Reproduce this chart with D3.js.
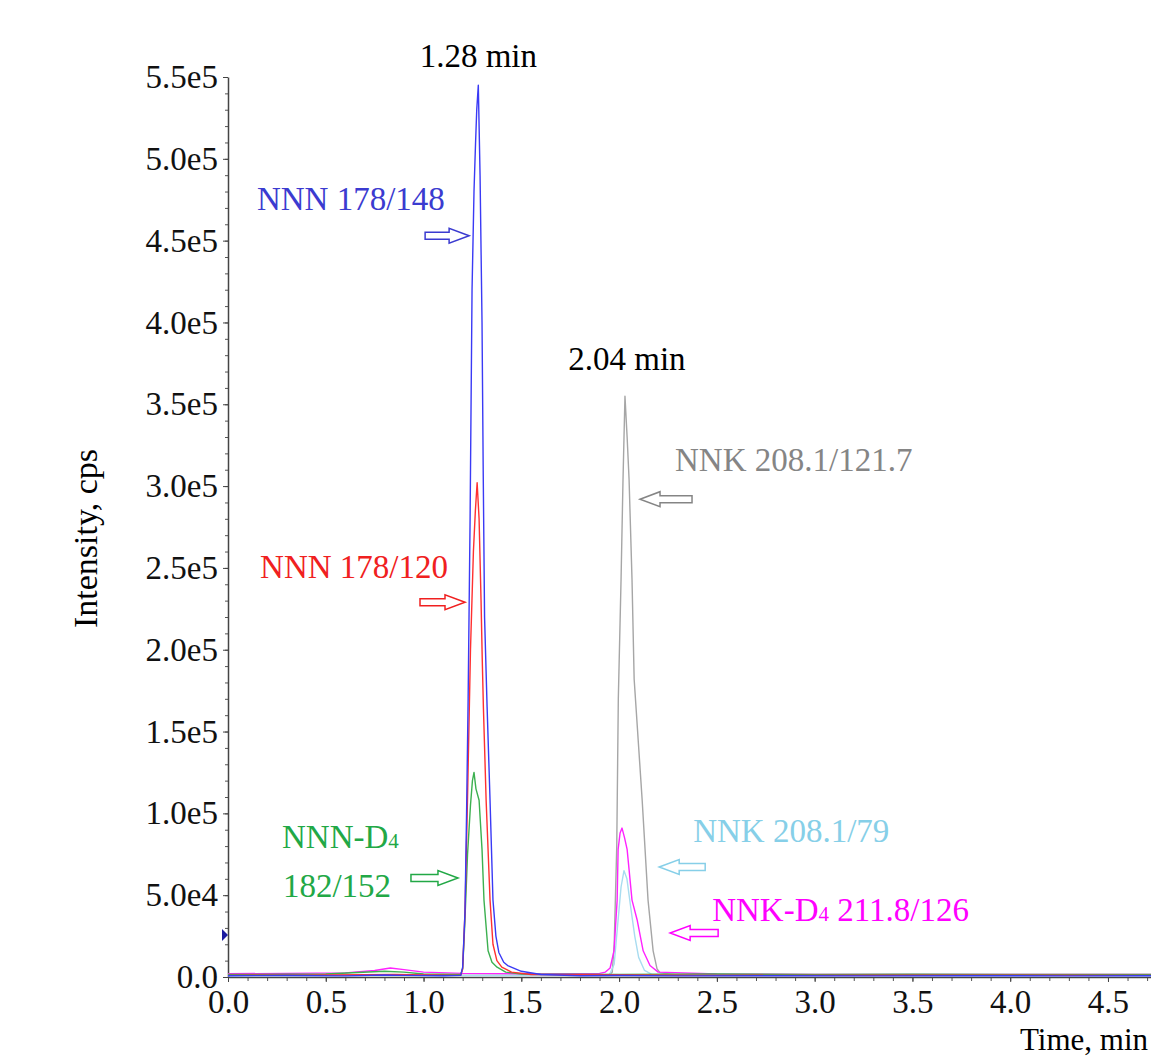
<!DOCTYPE html>
<html>
<head>
<meta charset="utf-8">
<script src="https://cdn.jsdelivr.net/npm/d3@7"></script>
<style>
  body { margin: 0; background: #fff; }
  svg { display: block; font-family: "Liberation Serif", "Times New Roman", serif; }
</style>
</head>
<body>
<script>
// chromatogram traces, [time (min), intensity (cps)]
const nnn148 = [[0,800],[0.3,900],[0.6,700],[0.8,1200],[0.9,1000],[1.1,800],[1.19,1000],[1.2,6000],[1.205,20000],[1.212,40000],
  [1.22,100000],[1.228,170000],[1.238,280000],[1.248,420000],[1.258,480000],[1.266,510000],[1.272,530000],[1.28,545000],
  [1.289,490000],[1.299,400000],[1.305,310000],[1.312,220000],[1.325,165000],[1.34,108000],[1.355,47000],[1.37,25000],
  [1.385,15000],[1.41,9000],[1.43,7000],[1.5,3500],[1.6,1500],[1.8,800],[2.0,900],[2.3,700],[2.8,800],[3.3,700],[3.8,800],[4.3,700],[4.75,800]];
const nnn120 = [[0,1000],[0.4,1100],[0.85,1500],[1.19,1000],[1.2,5000],[1.212,40000],[1.225,110000],[1.24,200000],[1.255,260000],
  [1.265,285000],[1.274,302000],[1.284,280000],[1.294,230000],[1.3,195000],[1.306,165000],[1.32,108000],[1.34,47000],[1.355,20000],
  [1.375,10000],[1.4,6000],[1.45,3000],[1.55,1500],[2.0,1200],[2.5,1000],[3.5,1100],[4.75,1000]];
const nnnD4 = [[0,1500],[0.5,1800],[0.8,3500],[0.9,3000],[1.0,1800],[1.19,1500],[1.2,5000],[1.21,30000],[1.225,75000],[1.24,105000],
  [1.25,120000],[1.258,125000],[1.268,115000],[1.284,108000],[1.299,78000],[1.309,47000],[1.33,16000],[1.35,9000],[1.376,6000],
  [1.42,3000],[1.5,1800],[2.0,1600],[2.5,1800],[3.0,1500],[3.5,1700],[4.0,1600],[4.75,1500]];
const nnk121 = [[0,1000],[0.5,1200],[1.0,1000],[1.5,1100],[1.95,1500],[1.965,3000],[1.975,20000],[1.988,80000],[1.996,170000],
  [2.01,243000],[2.02,304000],[2.03,355000],[2.041,330000],[2.051,304000],[2.066,243000],[2.077,182000],[2.118,108000],
  [2.148,47000],[2.174,16000],[2.194,5000],[2.21,2500],[2.3,1200],[3.0,1000],[4.0,1100],[4.75,1000]];
const nnk79 = [[0,800],[1.0,900],[1.95,1000],[1.975,8000],[1.995,35000],[2.01,55000],[2.025,65000],[2.04,60000],[2.06,42000],
  [2.08,25000],[2.1,12000],[2.13,4000],[2.17,1500],[3.0,900],[4.75,800]];
const nnkD4 = [[0,2000],[0.3,2200],[0.6,2500],[0.75,4000],[0.83,5500],[0.9,4500],[1.0,3000],[1.2,2200],[1.5,2000],[1.9,2200],
  [1.93,3000],[1.954,5500],[1.974,16000],[1.99,47000],[1.995,78000],[2.005,88000],[2.015,91000],[2.028,85000],[2.041,78000],
  [2.066,47000],[2.092,35000],[2.123,16000],[2.158,7000],[2.2,3000],[2.5,1800],[3.0,1600],[3.5,1500],[4.0,1600],[4.75,1500]];

const xTicks = [0, 0.5, 1.0, 1.5, 2.0, 2.5, 3.0, 3.5, 4.0, 4.5];
const yTicks = [0, 5e4, 1e5, 1.5e5, 2e5, 2.5e5, 3e5, 3.5e5, 4e5, 4.5e5, 5e5, 5.5e5];
const yTickLabels = ["0.0", "5.0e4", "1.0e5", "1.5e5", "2.0e5", "2.5e5", "3.0e5", "3.5e5", "4.0e5", "4.5e5", "5.0e5", "5.5e5"];

const width = 1151;
const height = 1056;

const svg = d3.select('body').append('svg')
  .attr('width', width)
  .attr('height', height);

const x = d3.scaleLinear().domain([0, 4.72]).range([228, 1151]);
const y = d3.scaleLinear().domain([0, 5.5e5]).range([977, 77]);

// minor ticks first, majors on top
svg.append('g')
  .attr('transform', `translate(0, ${y(0)})`)
  .call(d3.axisBottom(x).tickValues(d3.range(0, 4.75, 0.1)).tickSize(4).tickFormat('').tickSizeOuter(0))
  .call(g => g.select('.domain').remove())
  .call(g => g.selectAll('line').attr('stroke', '#555'));
svg.append('g')
  .attr('transform', `translate(${x(0)}, 0)`)
  .call(d3.axisLeft(y).tickValues(d3.range(0, 5.55e5, 1e4)).tickSize(3).tickFormat('').tickSizeOuter(0))
  .call(g => g.select('.domain').remove())
  .call(g => g.selectAll('line').attr('stroke', '#555'));

const xAxis = svg.append('g')
  .attr('transform', `translate(0, ${y(0)})`)
  .call(d3.axisBottom(x).tickValues(xTicks).tickFormat(d3.format('.1f')).tickSize(5).tickPadding(8).tickSizeOuter(0));
const yAxis = svg.append('g')
  .attr('transform', `translate(${x(0)}, 0)`)
  .call(d3.axisLeft(y).tickValues(yTicks).tickFormat((d, i) => yTickLabels[i]).tickSize(5).tickPadding(5).tickSizeOuter(0));

[xAxis, yAxis].forEach(a => {
  a.attr('font-family', null).attr('font-size', null);
  a.select('.domain').attr('stroke', '#444').attr('stroke-width', 1.5);
  a.selectAll('line').attr('stroke', '#444');
  a.selectAll('text').style('font-size', '33px').style('fill', '#111');
});

// traces
const line = d3.line().x(d => x(d[0])).y(d => y(d[1]));
const traces = [
  { data: nnk121, color: '#a6a6a6' },
  { data: nnk79, color: '#a8dcf0' },
  { data: nnkD4, color: '#ff22ff' },
  { data: nnnD4, color: '#3cb050' },
  { data: nnn120, color: '#ff3030' },
  { data: nnn148, color: '#3a3af5' }
];
svg.append('defs').append('clipPath').attr('id', 'plot')
  .append('rect').attr('x', x(0)).attr('y', 0).attr('width', width).attr('height', y(0) + 2);
svg.append('g').attr('clip-path', 'url(#plot)')
  .selectAll('path').data(traces).join('path')
  .attr('d', d => line(d.data))
  .attr('fill', 'none')
  .attr('stroke', d => d.color)
  .attr('stroke-width', 1.4)
  .attr('stroke-linejoin', 'round');

// small marker on the y axis
svg.append('path')
  .attr('d', `M${x(0) - 6},${y(2.57e4) - 6}L${x(0)},${y(2.57e4)}L${x(0) - 6},${y(2.57e4) + 6}Z`)
  .attr('fill', '#1a1aa0');

// axis titles
svg.append('text')
  .attr('transform', `translate(97, ${y(2.68e5)}) rotate(-90)`)
  .attr('text-anchor', 'middle')
  .style('font-size', '34px')
  .text('Intensity, cps');
svg.append('text')
  .attr('x', 1148).attr('y', 1050)
  .attr('text-anchor', 'end')
  .style('font-size', '31px')
  .text('Time, min');

// annotations
const labels = [
  { t: 1.28, v: 5.56e5, text: '1.28 min', color: '#000', anchor: 'middle' },
  { t: 2.04, v: 3.71e5, text: '2.04 min', color: '#000', anchor: 'middle' },
  { t: 0.148, v: 4.69e5, text: 'NNN 178/148', color: '#3b3bd0' },
  { t: 0.164, v: 2.44e5, text: 'NNN 178/120', color: '#f02020' },
  { t: 0.276, v: 0.79e5, text: 'NNN-D', sub: '4', color: '#22a846' },
  { t: 0.281, v: 0.49e5, text: '182/152', color: '#22a846' },
  { t: 2.286, v: 3.09e5, text: 'NNK 208.1/121.7', color: '#858585' },
  { t: 2.379, v: 0.825e5, text: 'NNK 208.1/79', color: '#86cfe8' },
  { t: 2.476, v: 0.342e5, text: 'NNK-D', sub: '4', rest: ' 211.8/126', color: '#ff00ff' }
];
labels.forEach(l => {
  const txt = svg.append('text')
    .attr('x', x(l.t)).attr('y', y(l.v))
    .attr('text-anchor', l.anchor || 'start')
    .style('font-size', '33px')
    .style('fill', l.color);
  txt.append('tspan').text(l.text);
  if (l.sub) txt.append('tspan').style('font-size', '21px').text(l.sub);
  if (l.rest) txt.append('tspan').text(l.rest);
});

// hollow block arrows: tip position in data units, dir +1 points right, -1 left
const arrows = [
  { t: 1.233, v: 4.53e5, dir: 1, len: 44, color: '#3b3bd0' },
  { t: 1.212, v: 2.29e5, dir: 1, len: 45, color: '#f02020' },
  { t: 1.176, v: 0.605e5, dir: 1, len: 47, color: '#22a846' },
  { t: 2.107, v: 2.92e5, dir: -1, len: 52, color: '#858585' },
  { t: 2.205, v: 0.672e5, dir: -1, len: 46, color: '#86cfe8' },
  { t: 2.261, v: 0.269e5, dir: -1, len: 48, color: '#ff00ff' }
];
svg.selectAll('.arrow').data(arrows).join('path')
  .attr('class', 'arrow')
  .attr('d', a => {
    const tx = x(a.t), ty = y(a.v), s = -a.dir;
    const hb = tx + s * 20, tail = tx + s * a.len;
    return `M${tx},${ty}L${hb},${ty - 7.5}L${hb},${ty - 3.5}L${tail},${ty - 3.5}` +
      `L${tail},${ty + 3.5}L${hb},${ty + 3.5}L${hb},${ty + 7.5}Z`;
  })
  .attr('fill', '#fff')
  .attr('stroke', a => a.color)
  .attr('stroke-width', 1.5);
</script>
</body>
</html>
